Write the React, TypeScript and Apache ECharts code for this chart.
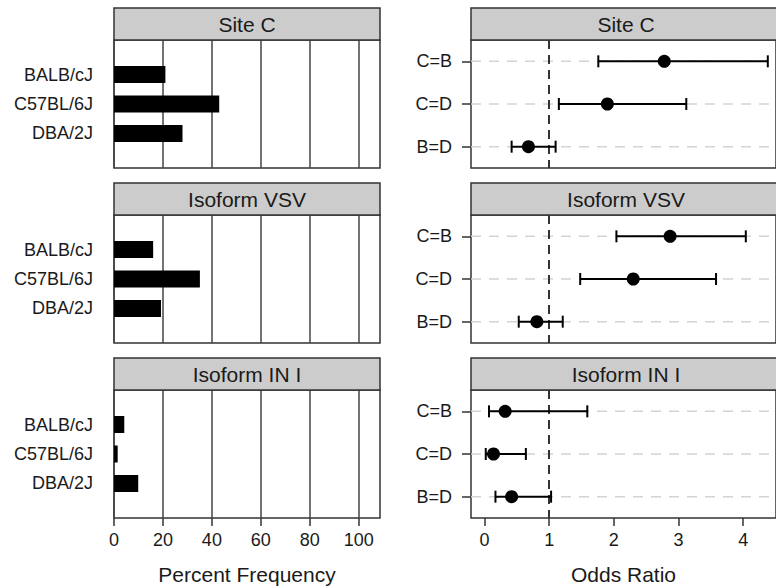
import React, { useEffect, useRef } from 'react';
import * as echarts from 'echarts';

const panelTitles = ['Site C', 'Isoform VSV', 'Isoform IN I'];
const strains = ['BALB/cJ', 'C57BL/6J', 'DBA/2J'];
const siteCFreq = [21, 43, 28];
const vsvFreq = [16, 35.1, 19.2];
const in1Freq = [4.2, 1.5, 9.9];
const freqTicks = [0, 20, 40, 60, 80, 100];

const comparisons = ['C=B', 'C=D', 'B=D'];
const siteCOR = [2.78, 1.9, 0.68];
const siteCLow = [1.76, 1.15, 0.42];
const siteCHigh = [4.38, 3.12, 1.1];
const vsvOR = [2.87, 2.3, 0.81];
const vsvLow = [2.04, 1.48, 0.53];
const vsvHigh = [4.04, 3.58, 1.21];
const in1OR = [0.32, 0.14, 0.42];
const in1Low = [0.07, 0.02, 0.17];
const in1High = [1.59, 0.64, 1.03];
const orTicks = [0, 1, 2, 3, 4];
const nullOR = 1;

const FONT = '"Liberation Sans", Arial, Helvetica, sans-serif';
const TEXT = '#1a1a1a';
const FRAME = '#333333';

export default function App() {
  const ref = useRef<HTMLDivElement>(null);
  useEffect(() => {
    if (!ref.current) return;
    const chart = echarts.init(ref.current, undefined, { renderer: 'svg' });
    const freqs = [siteCFreq, vsvFreq, in1Freq];
    const ors = [siteCOR, vsvOR, in1OR];
    const lows = [siteCLow, vsvLow, in1Low];
    const highs = [siteCHigh, vsvHigh, in1High];

    const LX = 114, LW = 266, RX = 471, RW = 310;
    const topOf = (k: number) => 40 + 175 * k;
    const PH = 128;

    const grids: any[] = [];
    const xAxes: any[] = [];
    const yAxes: any[] = [];
    const series: any[] = [];
    const graphics: any[] = [];

    for (let k = 0; k < 3; k++) {
      const last = k === 2;
      const li = 2 * k;
      const ri = 2 * k + 1;
      // left panel
      grids.push({ left: LX, top: topOf(k), width: LW, height: PH, show: true, borderColor: FRAME, borderWidth: 1.5, backgroundColor: '#fff' });
      xAxes.push({
        type: 'value', gridIndex: li, min: 0, max: 108.7, interval: 20,
        axisLine: { show: false, onZero: false },
        axisTick: { show: last, length: 8, lineStyle: { color: FRAME, width: 1.5 }, customValues: freqTicks },
        axisLabel: { show: last, margin: 13, fontSize: 18, fontFamily: FONT, color: TEXT, customValues: freqTicks },
        splitLine: { show: true, lineStyle: { color: '#444', width: 1.5 } },
        name: last ? 'Percent Frequency' : '', nameLocation: 'middle', nameGap: 46,
        nameTextStyle: { fontSize: 21, fontFamily: FONT, color: TEXT },
      });
      yAxes.push({
        type: 'value', gridIndex: li, min: -1.17, max: 3.17, inverse: true,
        axisLine: { show: false, onZero: false }, axisTick: { show: false }, splitLine: { show: false },
        axisLabel: {
          margin: 21, fontSize: 18, fontFamily: FONT, color: TEXT,
          customValues: [0, 1, 2], formatter: (v: number) => strains[Math.round(v)] ?? '',
        },
      });
      series.push({
        type: 'custom', xAxisIndex: li, yAxisIndex: li,
        dimensions: ['pct', 'row'],
        data: freqs[k].map((v, i) => [v, i]),
        encode: { x: 0, y: 1 },
        renderItem: (_p: any, api: any) => {
          const p0 = api.coord([0, api.value(1)]);
          const p1 = api.coord([api.value(0), api.value(1)]);
          const h = 17;
          return { type: 'rect', shape: { x: p0[0], y: p0[1] - h / 2, width: p1[0] - p0[0], height: h }, style: { fill: '#000' } };
        },
      });

      // right panel
      grids.push({ left: RX, top: topOf(k), width: RW, height: PH, show: true, borderColor: FRAME, borderWidth: 1.5, backgroundColor: '#fff' });
      xAxes.push({
        type: 'value', gridIndex: ri, min: -0.208, max: -0.208 + RW / 65.75,
        axisLine: { show: false, onZero: false },
        axisTick: { show: last, length: 8, lineStyle: { color: FRAME, width: 1.5 }, customValues: orTicks },
        axisLabel: { show: last, margin: 13, fontSize: 18, fontFamily: FONT, color: TEXT, customValues: orTicks },
        splitLine: { show: false },
        name: last ? 'Odds Ratio' : '', nameLocation: 'middle', nameGap: 46,
        nameTextStyle: { fontSize: 21, fontFamily: FONT, color: TEXT },
      });
      yAxes.push({
        type: 'value', gridIndex: ri, min: -0.5, max: 2.5, inverse: true,
        axisLine: { show: false, onZero: false },
        axisTick: { show: true, length: 9, lineStyle: { color: FRAME, width: 1.5 }, customValues: [0, 1, 2] },
        axisLabel: {
          margin: 19, fontSize: 18, fontFamily: FONT, color: TEXT,
          customValues: [0, 1, 2], formatter: (v: number) => comparisons[Math.round(v)] ?? '',
        },
        splitLine: { show: false },
      });
      // light dashed row guides
      series.push({
        type: 'custom', xAxisIndex: ri, yAxisIndex: ri,
        dimensions: ['or', 'row'],
        data: ors[k].map((v, i) => [v, i]),
        encode: { x: 0, y: 1 },
        z: 1,
        renderItem: (params: any, api: any) => {
          const p = api.coord([api.value(0), api.value(1)]);
          const cs = params.coordSys;
          return {
            type: 'line',
            shape: { x1: cs.x, y1: p[1], x2: cs.x + cs.width, y2: p[1] },
            style: { stroke: '#d4d4d4', lineWidth: 1.5, lineDash: [10, 8] },
          };
        },
      });
      // error bars
      series.push({
        type: 'custom', xAxisIndex: ri, yAxisIndex: ri,
        dimensions: ['low', 'high', 'row'],
        data: comparisons.map((_c, i) => [lows[k][i], highs[k][i], i]),
        encode: { x: [0, 1], y: 2 },
        z: 3,
        renderItem: (_p: any, api: any) => {
          const a = api.coord([api.value(0), api.value(2)]);
          const b = api.coord([api.value(1), api.value(2)]);
          const cap = 6;
          const st = { stroke: '#000', lineWidth: 2 };
          return {
            type: 'group',
            children: [
              { type: 'line', shape: { x1: a[0], y1: a[1], x2: b[0], y2: b[1] }, style: st },
              { type: 'line', shape: { x1: a[0], y1: a[1] - cap, x2: a[0], y2: a[1] + cap }, style: st },
              { type: 'line', shape: { x1: b[0], y1: b[1] - cap, x2: b[0], y2: b[1] + cap }, style: st },
            ],
          };
        },
      });
      // point estimates + null line
      series.push({
        type: 'scatter', xAxisIndex: ri, yAxisIndex: ri,
        data: ors[k].map((v, i) => [v, i]),
        symbol: 'circle', symbolSize: 13,
        itemStyle: { color: '#000', opacity: 1 },
        z: 5,
        markLine: {
          silent: true, symbol: 'none', label: { show: false },
          lineStyle: { color: '#333', type: [9, 6], width: 2 },
          data: [{ xAxis: nullOR }],
          z: 2,
        },
      });

      // strip headers
      const ht = 8 + 175 * k;
      graphics.push({ type: 'rect', shape: { x: LX, y: ht, width: LW, height: 32 }, style: { fill: '#cccccc', stroke: FRAME, lineWidth: 1.5 }, z: 10 });
      graphics.push({ type: 'text', x: LX + LW / 2, y: ht + 16, style: { text: panelTitles[k], fontSize: 21, fontFamily: FONT, fill: TEXT, align: 'center', verticalAlign: 'middle' }, z: 11 });
      graphics.push({ type: 'rect', shape: { x: RX, y: ht, width: RW, height: 32 }, style: { fill: '#cccccc', stroke: FRAME, lineWidth: 1.5 }, z: 10 });
      graphics.push({ type: 'text', x: RX + RW / 2, y: ht + 16, style: { text: panelTitles[k], fontSize: 21, fontFamily: FONT, fill: TEXT, align: 'center', verticalAlign: 'middle' }, z: 11 });
    }

    chart.setOption({
      animation: false,
      backgroundColor: '#fff',
      grid: grids,
      xAxis: xAxes,
      yAxis: yAxes,
      series,
      graphic: graphics,
    });
    return () => chart.dispose();
  }, []);
  return <div ref={ref} style={{ position: 'fixed', left: 0, top: 0, width: 776, height: 588 }} />;
}
